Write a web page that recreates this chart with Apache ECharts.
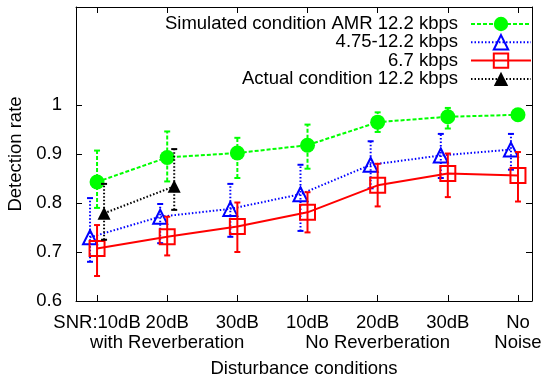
<!DOCTYPE html>
<html><head><meta charset="utf-8">
<script src="https://cdn.jsdelivr.net/npm/echarts@6/dist/echarts.min.js"></script>
<style>html,body{margin:0;padding:0;background:#fff}#c{width:542px;height:379px}</style>
</head><body><div id="c"></div>
<script>
const positions = [1, 2, 3, 4, 5, 6, 7];
const tickLabels = ["SNR:10dB", "20dB\nwith Reverberation", "30dB", "10dB", "20dB\nNo Reverberation", "30dB", "No\nNoise"];
const yTicks = [0.6, 0.7, 0.8, 0.9, 1.0];

const simName = "Simulated condition AMR 12.2 kbps";
const simVal  = [0.843, 0.893, 0.902, 0.918, 0.965, 0.976, 0.980];
const simLow  = [0.790, 0.844, 0.851, 0.870, 0.945, 0.952, 0.975];
const simHigh = [0.907, 0.946, 0.933, 0.960, 0.985, 0.994, 0.985];

const varName = "4.75-12.2 kbps";
const varVal  = [0.730, 0.772, 0.788, 0.818, 0.878, 0.897, 0.909];
const varLow  = [0.680, 0.718, 0.731, 0.743, 0.830, 0.851, 0.868];
const varHigh = [0.810, 0.798, 0.839, 0.878, 0.926, 0.941, 0.941];

const fixName = "6.7 kbps";
const fixVal  = [0.707, 0.731, 0.752, 0.781, 0.836, 0.860, 0.856];
const fixLow  = [0.651, 0.693, 0.700, 0.740, 0.793, 0.812, 0.803];
const fixHigh = [0.755, 0.772, 0.801, 0.822, 0.880, 0.901, 0.904];

const actName = "Actual condition 12.2 kbps";
const actPos  = [1, 2];
const actVal  = [0.779, 0.834];
const actLow  = [0.725, 0.786];
const actHigh = [0.839, 0.910];

const FONT = "'Liberation Sans', Arial, Helvetica, sans-serif";
const FS = 18.5;

const firstLine = tickLabels.map(s => s.split('\n')[0]);
const secondLine = tickLabels.map(s => s.split('\n')[1] || '');
const secondPos = positions.filter((p, i) => secondLine[i] !== '');

function lineSeries(name, xs, off, vals, color, dash, symbol, size, filled, z) {
  return {
    type: 'line', name: name, z: z,
    data: xs.map((x, i) => [x + off, vals[i]]),
    symbol: symbol, symbolSize: size, showSymbol: true,
    lineStyle: { color: color, width: 2, type: dash },
    itemStyle: filled ? { color: color } : { color: 'rgba(0,0,0,0)', borderColor: color, borderWidth: 2 },
    emphasis: { disabled: true },
    animation: false
  };
}
function errSeries(name, xs, off, low, high, color, dash, z) {
  return {
    type: 'custom', name: name + ' err', z: z, silent: true, animation: false,
    encode: { x: 0, y: [1, 2] },
    data: xs.map((x, i) => [x + off, low[i], high[i]]),
    renderItem: function (params, api) {
      const x = api.value(0);
      const p1 = api.coord([x, api.value(1)]);
      const p2 = api.coord([x, api.value(2)]);
      const w = 3;
      const cap = { stroke: color, lineWidth: 2 };
      return { type: 'group', children: [
        { type: 'line', shape: { x1: p1[0], y1: p1[1], x2: p2[0], y2: p2[1] }, style: { stroke: color, lineWidth: 2, lineDash: dash } },
        { type: 'line', shape: { x1: p1[0] - w, y1: p1[1], x2: p1[0] + w, y2: p1[1] }, style: cap },
        { type: 'line', shape: { x1: p2[0] - w, y1: p2[1], x2: p2[0] + w, y2: p2[1] }, style: cap }
      ] };
    }
  };
}

const GREEN = '#00ff00', BLUE = '#0000ff', RED = '#ff0000', BLACK = '#000000';
const legendNames = [simName, varName, fixName, actName];
const legendTops = [14.5, 32.8, 51.1, 69.4];

const chart = echarts.init(document.getElementById('c'), null, { renderer: 'canvas' });
chart.setOption({
  backgroundColor: '#fff',
  animation: false,
  textStyle: { fontFamily: FONT },
  grid: { left: 76, right: 10, top: 7, bottom: 78, containLabel: false, outerBoundsMode: 'none' },
  legend: legendNames.map((n, i) => ({
    data: [n], right: 10, top: legendTops[i], orient: 'horizontal', align: 'right',
    itemWidth: 60, itemHeight: 18, padding: 0, selectedMode: false,
    textStyle: { fontSize: FS, fontFamily: FONT, color: '#000', padding: [0, 8, 0, 0] }
  })),
  xAxis: [{
    type: 'value', min: 0.7, max: 7.2, position: 'bottom',
    name: 'Disturbance conditions', nameLocation: 'middle', nameGap: 58,
    nameTextStyle: { fontSize: FS, fontFamily: FONT, color: '#000' },
    axisLine: { show: true, lineStyle: { color: '#000', width: 1 } },
    axisTick: { show: true, inside: true, length: 6, customValues: positions, lineStyle: { color: '#000' } },
    axisLabel: { show: true, customValues: positions, margin: 12, fontSize: FS, fontFamily: FONT, color: '#000',
      showMinLabel: true, showMaxLabel: true, hideOverlap: false,
      formatter: v => firstLine[Math.round(v) - 1] },
    splitLine: { show: false }
  }, {
    type: 'value', min: 0.7, max: 7.2, position: 'top',
    axisLine: { show: true, lineStyle: { color: '#000', width: 1 } },
    axisTick: { show: true, inside: true, length: 6, customValues: positions, lineStyle: { color: '#000' } },
    axisLabel: { show: false }, splitLine: { show: false }
  }, {
    type: 'value', min: 0.7, max: 7.2, position: 'bottom', gridIndex: 0,
    axisLine: { show: false }, axisTick: { show: false }, splitLine: { show: false },
    axisLabel: { show: true, customValues: secondPos, margin: 32, fontSize: FS, fontFamily: FONT, color: '#000',
      showMinLabel: true, showMaxLabel: true, hideOverlap: false,
      formatter: v => secondLine[Math.round(v) - 1] }
  }],
  yAxis: [{
    type: 'value', min: 0.6, max: 1.2, position: 'left',
    name: 'Detection rate', nameLocation: 'middle', nameGap: 49, nameRotate: 90,
    nameTextStyle: { fontSize: FS, fontFamily: FONT, color: '#000' },
    axisLine: { show: true, lineStyle: { color: '#000', width: 1 } },
    axisTick: { show: true, inside: true, length: 6, customValues: yTicks, lineStyle: { color: '#000' } },
    axisLabel: { show: true, customValues: yTicks, margin: 14, fontSize: FS, fontFamily: FONT, color: '#000',
      showMinLabel: true, showMaxLabel: true,
      formatter: v => (Math.abs(v - 1) < 1e-6 ? '1' : v.toFixed(1)) },
    splitLine: { show: false }
  }, {
    type: 'value', min: 0.6, max: 1.2, position: 'right',
    axisLine: { show: true, lineStyle: { color: '#000', width: 1 } },
    axisTick: { show: true, inside: true, length: 6, customValues: yTicks, lineStyle: { color: '#000' } },
    axisLabel: { show: false }, splitLine: { show: false }
  }],
  series: [
    errSeries(simName, positions, 0, simLow, simHigh, GREEN, [4, 2], 2),
    lineSeries(simName, positions, 0, simVal, GREEN, [4, 2], 'circle', 15, true, 2),
    errSeries(varName, positions, -0.1, varLow, varHigh, BLUE, [1.5, 2], 3),
    lineSeries(varName, positions, -0.1, varVal, BLUE, [1.5, 2], 'triangle', 14, false, 3),
    errSeries(fixName, positions, 0, fixLow, fixHigh, RED, null, 4),
    lineSeries(fixName, positions, 0, fixVal, RED, 'solid', 'rect', 15, false, 4),
    errSeries(actName, actPos, 0.1, actLow, actHigh, BLACK, [1.5, 2], 5),
    lineSeries(actName, actPos, 0.1, actVal, BLACK, [1.5, 2], 'triangle', 13, true, 5)
  ]
});
</script>
</body></html>
